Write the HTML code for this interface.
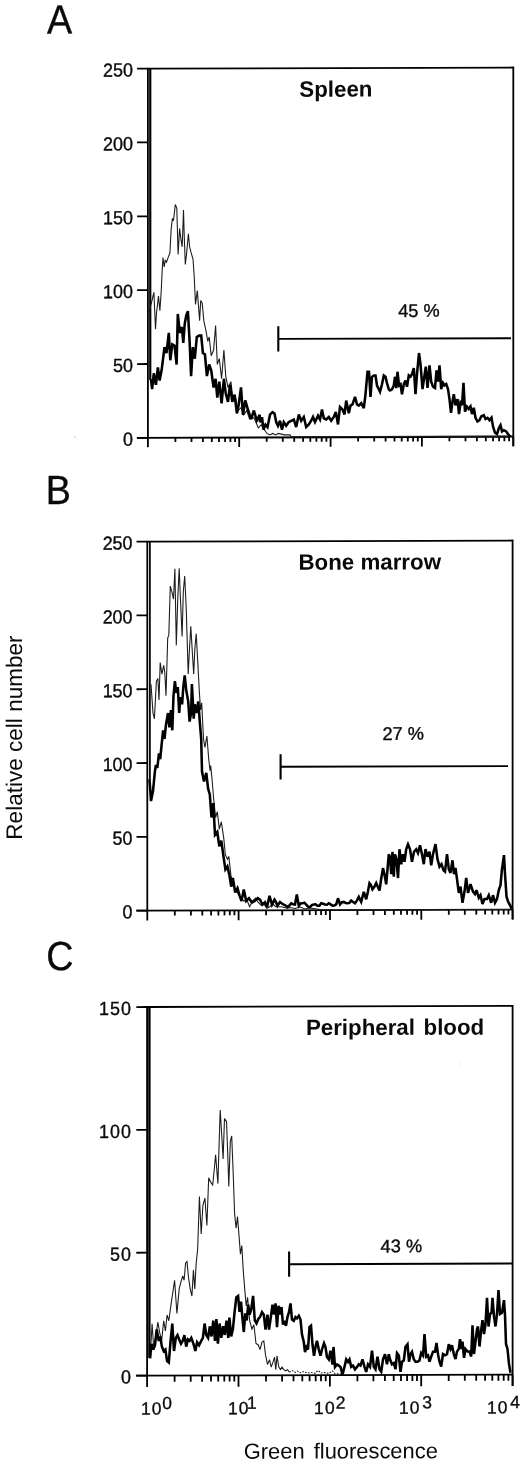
<!DOCTYPE html>
<html lang="en">
<head>
<meta charset="utf-8">
<title>Figure: GFP expression histograms</title>
<style>
html,body{margin:0;padding:0;background:#fff;}
body{width:520px;height:1465px;overflow:hidden;}
svg{display:block;}
text{font-family:"Liberation Sans",Arial,Helvetica,sans-serif;fill:#0a0a0a;}
.tk{font-size:17.9px;stroke:#0a0a0a;stroke-width:0.35px;}
.ttl{font-size:22.3px;font-weight:bold;}
.ax{font-size:22.2px;}
.pl{font-size:40.8px;stroke:#0a0a0a;stroke-width:0.35px;}
.thin{fill:none;stroke:#1c1c1c;stroke-width:1.08;stroke-linejoin:miter;stroke-miterlimit:3;}
.thick{fill:none;stroke:#000;stroke-width:2.55;stroke-linejoin:miter;stroke-miterlimit:3;}
</style>
</head>
<body>
<svg width="520" height="1465" viewBox="0 0 520 1465">
<rect width="520" height="1465" fill="#fff"/>
<g transform="translate(148 0) skewY(-0.17) translate(-148 0)">
<text transform="translate(47.1 33.3) scale(0.925 1)" class="pl">A</text>
<text transform="translate(45.8 503.6) scale(0.925 1)" class="pl">B</text>
<text transform="translate(46.3 970) scale(0.925 1)" class="pl">C</text>
<path d="M147.9 437.8 V68.6 H513.3 V447.3" fill="none" stroke="#000" stroke-width="1.8" stroke-linejoin="miter"/>
<path d="M136.9 437.8 H513.3" fill="none" stroke="#000" stroke-width="1.8"/>
<path d="M150.25 380 V69.1" fill="none" stroke="#000" stroke-width="2.2"/>
<path d="M137.1 437.8 H147.9" stroke="#000" stroke-width="1.8"/>
<text transform="translate(132.9 445.7) scale(1 1.06)" text-anchor="end" class="tk" style="letter-spacing:0px">0</text>
<path d="M137.1 364.0 H147.9" stroke="#000" stroke-width="1.8"/>
<text transform="translate(132.9 371.9) scale(1 1.06)" text-anchor="end" class="tk" style="letter-spacing:0px">50</text>
<path d="M137.1 290.1 H147.9" stroke="#000" stroke-width="1.8"/>
<text transform="translate(132.9 298.0) scale(1 1.06)" text-anchor="end" class="tk" style="letter-spacing:0px">100</text>
<path d="M137.1 216.3 H147.9" stroke="#000" stroke-width="1.8"/>
<text transform="translate(132.9 224.2) scale(1 1.06)" text-anchor="end" class="tk" style="letter-spacing:0px">150</text>
<path d="M137.1 142.4 H147.9" stroke="#000" stroke-width="1.8"/>
<text transform="translate(132.9 150.3) scale(1 1.06)" text-anchor="end" class="tk" style="letter-spacing:0px">200</text>
<path d="M137.1 68.6 H147.9" stroke="#000" stroke-width="1.8"/>
<text transform="translate(132.9 76.5) scale(1 1.06)" text-anchor="end" class="tk" style="letter-spacing:0px">250</text>
<path d="M147.9 437.8 v9.5 M175.4 437.8 v4.4 M191.5 437.8 v4.4 M202.9 437.8 v4.4 M211.8 437.8 v4.4 M219.0 437.8 v4.4 M225.1 437.8 v4.4 M230.4 437.8 v4.4 M235.1 437.8 v4.4 M239.2 437.8 v9.5 M266.7 437.8 v4.4 M282.8 437.8 v4.4 M294.2 437.8 v4.4 M303.1 437.8 v4.4 M310.3 437.8 v4.4 M316.4 437.8 v4.4 M321.7 437.8 v4.4 M326.4 437.8 v4.4 M330.6 437.8 v9.5 M358.1 437.8 v4.4 M374.2 437.8 v4.4 M385.6 437.8 v4.4 M394.5 437.8 v4.4 M401.7 437.8 v4.4 M407.8 437.8 v4.4 M413.1 437.8 v4.4 M417.8 437.8 v4.4 M421.9 437.8 v9.5 M449.4 437.8 v4.4 M465.5 437.8 v4.4 M476.9 437.8 v4.4 M485.8 437.8 v4.4 M493.0 437.8 v4.4 M499.1 437.8 v4.4 M504.4 437.8 v4.4 M509.1 437.8 v4.4 M513.3 437.8 v9.5" stroke="#000" stroke-width="1.8" fill="none"/>
<text x="299.3" y="97.2" class="ttl" style="word-spacing:0px">Spleen</text>
<path d="M278.3 326.7 V351.90000000000003" stroke="#000" stroke-width="2.1" fill="none"/>
<path d="M278.3 339.3 H511" stroke="#000" stroke-width="1.9" fill="none"/>
<text x="398.2" y="317.7" class="tk" style="font-size:18.2px">45 %</text>
<path d="M148.1 313.1 L149.9 308.5 L151.9 300.8 L153.9 292.3 L155.5 329.2 L156.5 313.1 L158.5 296.2 L159.9 310.8 L161.2 291.5 L162.2 270.0 L163.0 257.7 L164.2 266.9 L165.3 260.0 L166.5 262.3 L168.1 257.7 L169.9 253.1 L171.2 228.5 L172.4 218.5 L173.5 220.8 L175.3 204.6 L176.8 208.5 L178.1 254.6 L179.6 228.5 L180.7 237.7 L182.2 246.9 L183.5 210.0 L184.2 234.6 L185.3 264.6 L186.5 254.6 L188.4 233.8 L189.6 246.9 L191.2 253.1 L193.0 259.2 L194.2 276.2 L195.5 304.6 L197.3 290.8 L198.8 310.0 L199.6 320.8 L200.7 300.8 L202.2 303.1 L203.8 320.8 L205.8 330.0 L207.8 341.5 L209.2 337.2 L211.2 356.0 L213.6 350.2 L215.6 325.7 L217.3 364.6 L219.3 358.8 L221.6 379.0 L223.9 350.2 L225.7 376.2 L228.0 387.7 L230.9 381.9 L232.9 399.2 L235.2 396.3 L238.1 410.8 L241.0 407.9 L243.8 415.1 L246.7 410.8 L249.6 419.4 L253.9 418.0 L258.3 428.1 L261.2 425.2 L266.9 433.8 L269.8 435.3 L272.7 433.8 L275.6 435.3 L278.5 433.8 L284.2 435.3 L290.0 435.3 L291.2 437.2 L513.3 437.2" class="thin"/>
<path d="M151.0 379.0 L152.1 389.1 L153.8 373.3 L155.9 384.8 L157.9 367.5 L159.6 380.5 L161.6 370.4 L164.5 347.3 L166.5 353.1 L168.8 332.9 L170.3 360.3 L172.3 344.4 L174.6 345.9 L176.6 364.6 L177.8 314.1 L179.8 332.9 L181.8 327.1 L183.3 343.0 L184.7 324.2 L186.2 315.6 L187.9 311.2 L189.6 341.5 L191.1 376.2 L192.8 347.3 L194.8 358.8 L196.8 337.2 L199.1 335.8 L201.2 335.8 L202.9 353.1 L204.9 354.5 L206.9 376.2 L209.2 364.6 L211.2 370.4 L213.6 387.7 L215.6 379.0 L217.3 397.8 L219.3 381.9 L221.6 403.6 L223.9 379.0 L225.7 393.5 L228.0 402.1 L230.0 384.8 L232.3 402.1 L234.6 394.9 L236.9 413.7 L238.7 405.0 L241.0 387.7 L243.0 415.1 L245.3 400.7 L248.2 410.8 L251.1 419.4 L253.9 410.8 L256.8 420.9 L259.7 415.1 L260.0 422.5 L262.0 417.5 L263.5 430.0 L265.5 425.0 L267.5 427.5 L270.0 415.0 L272.5 412.5 L274.5 413.8 L276.2 422.5 L278.0 426.2 L280.0 421.2 L282.0 430.0 L283.8 422.5 L286.2 426.2 L288.8 422.5 L291.2 421.2 L293.8 420.0 L296.2 427.5 L298.8 415.0 L301.2 421.2 L303.8 417.5 L306.2 427.5 L308.8 425.0 L311.2 421.2 L313.0 417.5 L315.0 422.5 L318.0 416.2 L320.0 420.0 L322.0 410.0 L323.8 418.8 L326.2 420.0 L328.8 417.5 L331.2 421.2 L333.8 417.5 L335.8 412.5 L338.0 425.0 L340.0 407.5 L342.5 410.0 L344.5 415.0 L346.2 401.2 L348.8 413.8 L350.5 406.2 L352.5 405.0 L355.0 397.5 L357.0 405.0 L358.8 406.2 L361.2 403.8 L363.8 408.8 L365.5 395.0 L367.5 372.5 L369.0 372.5 L370.5 397.5 L372.0 377.5 L373.8 376.2 L375.5 376.2 L377.0 386.2 L378.8 390.0 L380.0 392.5 L382.0 385.0 L383.8 376.2 L385.5 377.5 L387.0 383.8 L388.8 390.0 L390.0 391.2 L392.0 390.0 L393.8 386.2 L395.0 377.5 L396.2 388.8 L397.5 372.5 L399.0 386.2 L400.5 385.0 L402.0 395.0 L403.8 385.0 L405.5 381.2 L407.0 387.5 L408.8 376.2 L410.5 377.5 L412.0 375.0 L413.8 368.8 L415.5 395.0 L417.0 375.0 L419.0 353.8 L420.5 365.0 L422.5 390.0 L424.5 376.2 L425.8 367.5 L427.5 388.8 L429.5 366.2 L431.2 382.5 L433.0 387.5 L435.0 388.8 L436.5 371.2 L438.0 382.5 L439.5 366.2 L441.2 390.0 L443.0 383.8 L444.5 386.2 L446.2 385.0 L448.0 390.0 L449.5 400.0 L451.0 413.8 L452.5 402.5 L453.8 395.0 L455.5 406.2 L457.5 400.0 L459.0 415.0 L460.5 403.8 L462.0 406.2 L463.5 383.8 L465.0 412.5 L467.0 407.5 L468.8 410.0 L470.5 407.5 L472.0 415.0 L473.8 408.8 L475.5 418.8 L477.5 422.5 L479.5 421.2 L481.2 417.5 L483.8 416.2 L485.5 420.0 L487.5 418.8 L489.5 421.2 L491.5 418.8 L493.0 427.5 L495.0 433.8 L497.0 435.0 L499.0 428.8 L500.5 426.2 L502.0 432.5 L503.8 431.2 L506.2 432.5 L508.0 435.0 L510.0 437.5" class="thick"/>
<path d="M147.3 910.6 V541.6 H512.6 V920.6" fill="none" stroke="#000" stroke-width="1.8" stroke-linejoin="miter"/>
<path d="M136.3 910.6 H512.6" fill="none" stroke="#000" stroke-width="1.8"/>
<path d="M149.9 780 V542.1" fill="none" stroke="#000" stroke-width="1.7"/>
<path d="M136.5 910.6 H147.3" stroke="#000" stroke-width="1.8"/>
<text transform="translate(132.5 918.5) scale(1 1.06)" text-anchor="end" class="tk" style="letter-spacing:0px">0</text>
<path d="M136.5 836.8 H147.3" stroke="#000" stroke-width="1.8"/>
<text transform="translate(132.5 844.7) scale(1 1.06)" text-anchor="end" class="tk" style="letter-spacing:0px">50</text>
<path d="M136.5 763.0 H147.3" stroke="#000" stroke-width="1.8"/>
<text transform="translate(132.5 770.9) scale(1 1.06)" text-anchor="end" class="tk" style="letter-spacing:0px">100</text>
<path d="M136.5 689.2 H147.3" stroke="#000" stroke-width="1.8"/>
<text transform="translate(132.5 697.1) scale(1 1.06)" text-anchor="end" class="tk" style="letter-spacing:0px">150</text>
<path d="M136.5 615.4 H147.3" stroke="#000" stroke-width="1.8"/>
<text transform="translate(132.5 623.3) scale(1 1.06)" text-anchor="end" class="tk" style="letter-spacing:0px">200</text>
<path d="M136.5 541.6 H147.3" stroke="#000" stroke-width="1.8"/>
<text transform="translate(132.5 549.5) scale(1 1.06)" text-anchor="end" class="tk" style="letter-spacing:0px">250</text>
<path d="M147.3 910.6 v10 M174.8 910.6 v5 M190.9 910.6 v5 M202.3 910.6 v5 M211.1 910.6 v5 M218.4 910.6 v5 M224.5 910.6 v5 M229.8 910.6 v5 M234.4 910.6 v5 M238.6 910.6 v10 M266.1 910.6 v5 M282.2 910.6 v5 M293.6 910.6 v5 M302.5 910.6 v5 M309.7 910.6 v5 M315.8 910.6 v5 M321.1 910.6 v5 M325.8 910.6 v5 M330.0 910.6 v10 M357.4 910.6 v5 M373.5 910.6 v5 M384.9 910.6 v5 M393.8 910.6 v5 M401.0 910.6 v5 M407.1 910.6 v5 M412.4 910.6 v5 M417.1 910.6 v5 M421.3 910.6 v10 M448.8 910.6 v5 M464.8 910.6 v5 M476.3 910.6 v5 M485.1 910.6 v5 M492.3 910.6 v5 M498.5 910.6 v5 M503.7 910.6 v5 M508.4 910.6 v5 M512.6 910.6 v10" stroke="#000" stroke-width="1.8" fill="none"/>
<text x="298.5" y="570.2" class="ttl" style="word-spacing:0px">Bone marrow</text>
<path d="M280.6 754.6 V779.8000000000001" stroke="#000" stroke-width="2.1" fill="none"/>
<path d="M280.6 767.2 H508" stroke="#000" stroke-width="1.9" fill="none"/>
<text x="382.5" y="740.6" class="tk" style="font-size:18.2px">27 %</text>
<path d="M151.0 684.2 L153.0 713.1 L154.4 718.8 L156.4 681.3 L157.9 678.5 L159.0 700.1 L160.2 662.6 L161.9 674.1 L163.7 665.5 L164.8 672.7 L166.0 695.8 L167.7 638.1 L168.8 635.2 L170.3 586.2 L172.3 593.4 L173.5 599.1 L174.9 568.8 L176.3 645.3 L177.8 597.7 L179.2 568.3 L180.4 597.7 L182.1 636.6 L183.3 591.9 L184.7 576.1 L186.2 607.8 L188.2 674.1 L189.3 652.5 L190.8 626.5 L192.5 655.4 L193.7 674.1 L194.8 649.6 L196.2 633.8 L197.7 661.2 L199.4 692.9 L200.6 710.2 L201.7 703.0 L203.5 739.0 L204.9 747.7 L206.9 736.2 L208.7 759.2 L210.1 770.8 L210.7 765.8 L212.1 780.2 L213.8 800.4 L215.6 817.7 L217.3 811.9 L219.3 829.2 L221.3 822.0 L223.7 837.9 L225.4 855.2 L227.4 859.5 L228.8 856.6 L230.9 875.4 L232.9 884.0 L235.2 889.8 L238.1 894.1 L241.0 898.5 L243.8 901.3 L246.7 899.9 L249.6 907.1 L252.5 901.3 L255.4 898.5 L258.3 902.8 L261.2 905.7 L264.0 904.2 L266.9 908.6 L269.8 907.1 L272.7 904.2 L275.6 907.1 L281.3 907.1 L287.1 908.6 L290.0 908.0 L295.0 909.0 L300.0 907.5 L305.0 909.5 L310.0 908.5 L320.0 910.0 L335.0 910.5 L512.5 910.5" class="thin"/>
<path d="M149.5 779.4 L151.0 801.1 L153.0 791.0 L155.0 770.8 L155.9 765.0 L157.3 767.9 L159.0 753.5 L160.2 759.2 L161.9 741.9 L163.1 730.4 L164.5 739.0 L166.0 724.6 L168.0 713.1 L169.4 727.5 L170.9 710.2 L172.3 730.4 L173.5 695.8 L174.9 681.3 L176.3 692.9 L177.8 687.1 L179.2 713.1 L180.4 697.2 L182.1 704.4 L183.3 687.1 L184.7 675.6 L186.2 690.0 L188.2 701.5 L189.6 721.7 L191.1 713.1 L191.9 684.2 L193.7 718.8 L194.8 704.4 L196.5 713.1 L198.3 701.5 L200.0 724.6 L201.2 739.0 L202.0 771.5 L204.0 781.6 L206.3 773.0 L208.1 788.8 L209.8 794.6 L211.5 817.7 L213.3 803.3 L215.0 835.0 L217.3 832.1 L219.3 846.5 L221.3 840.8 L223.7 858.1 L225.4 869.6 L227.4 866.7 L229.4 875.4 L231.2 886.9 L232.9 878.3 L235.2 892.7 L237.5 888.4 L239.5 895.6 L241.5 901.3 L243.8 889.8 L246.2 901.3 L249.0 898.5 L251.9 902.8 L254.8 901.3 L257.7 898.5 L260.0 900.0 L262.5 905.0 L265.0 902.5 L267.0 907.5 L269.5 896.2 L272.0 905.0 L274.5 900.0 L276.0 902.4 L277.5 906.2 L280.0 902.5 L281.9 903.9 L283.8 905.0 L285.6 905.9 L287.5 907.5 L289.4 905.9 L291.2 903.8 L293.1 904.7 L295.0 905.0 L296.8 895.0 L298.8 906.2 L300.6 903.9 L302.5 903.8 L304.4 903.1 L306.2 905.0 L308.1 907.1 L310.0 907.5 L311.9 905.6 L313.8 905.0 L315.6 904.9 L317.5 906.2 L319.4 906.3 L321.2 903.8 L323.1 904.3 L325.0 905.0 L326.9 905.2 L328.8 903.8 L330.6 904.9 L332.5 906.2 L334.4 906.0 L336.2 905.0 L338.0 898.8 L340.0 905.0 L341.9 902.8 L343.8 902.5 L345.6 903.5 L347.5 903.8 L349.4 903.5 L351.2 901.2 L353.1 902.6 L355.0 903.8 L356.9 901.3 L358.8 897.5 L361.2 902.5 L363.8 892.5 L366.2 900.0 L367.9 892.3 L369.5 883.8 L371.0 885.7 L372.5 890.0 L374.4 887.5 L376.2 883.8 L377.9 887.7 L379.5 891.2 L381.2 879.5 L383.0 868.8 L384.6 875.7 L386.2 885.0 L388.8 855.0 L390.0 857.5 L391.2 875.0 L392.5 852.5 L393.8 877.5 L395.0 855.0 L396.5 860.0 L398.0 878.8 L399.5 850.0 L401.2 865.0 L403.0 855.0 L404.5 862.5 L406.2 850.0 L408.0 845.0 L410.0 850.0 L412.0 862.5 L414.0 852.5 L416.2 850.0 L418.0 853.8 L420.0 846.2 L422.0 855.0 L423.8 865.0 L425.5 850.0 L427.5 857.5 L429.5 852.5 L431.2 866.2 L433.0 855.0 L435.5 845.0 L437.5 860.0 L439.5 867.5 L441.5 865.0 L443.5 871.2 L445.0 872.5 L447.0 855.0 L448.8 870.0 L450.5 873.8 L452.5 861.2 L454.0 875.0 L455.5 868.8 L457.0 880.0 L458.8 893.8 L460.5 887.5 L462.5 903.8 L464.5 892.5 L466.2 878.8 L468.0 893.8 L470.5 885.0 L473.0 892.5 L475.0 895.0 L476.5 891.2 L478.8 898.8 L480.5 896.2 L482.5 905.0 L484.5 900.0 L487.0 900.0 L488.8 896.2 L491.2 903.8 L493.0 896.2 L495.0 903.8 L497.0 900.0 L498.8 891.2 L500.5 886.2 L502.0 870.0 L504.0 856.2 L505.0 875.0 L506.5 897.5 L508.0 902.5 L510.0 906.2 L511.8 910.0" class="thick"/>
<path d="M147.1 1375.6 V1007 H512.6 V1387.1" fill="none" stroke="#000" stroke-width="1.8" stroke-linejoin="miter"/>
<path d="M136.1 1375.6 H512.6" fill="none" stroke="#000" stroke-width="1.8"/>
<path d="M149.4 1358 V1007.5" fill="none" stroke="#000" stroke-width="2.4"/>
<path d="M136.29999999999998 1375.6 H147.1" stroke="#000" stroke-width="1.8"/>
<text transform="translate(132.1 1383.5) scale(1 1.06)" text-anchor="end" class="tk" style="letter-spacing:1.1px">0</text>
<path d="M136.29999999999998 1252.7 H147.1" stroke="#000" stroke-width="1.8"/>
<text transform="translate(132.1 1260.6) scale(1 1.06)" text-anchor="end" class="tk" style="letter-spacing:1.1px">50</text>
<path d="M136.29999999999998 1129.9 H147.1" stroke="#000" stroke-width="1.8"/>
<text transform="translate(132.1 1137.8) scale(1 1.06)" text-anchor="end" class="tk" style="letter-spacing:1.1px">100</text>
<path d="M136.29999999999998 1007.0 H147.1" stroke="#000" stroke-width="1.8"/>
<text transform="translate(132.1 1014.9) scale(1 1.06)" text-anchor="end" class="tk" style="letter-spacing:1.1px">150</text>
<path d="M147.1 1375.6 v11.5 M174.6 1375.6 v6.2 M190.7 1375.6 v6.2 M202.1 1375.6 v6.2 M211.0 1375.6 v6.2 M218.2 1375.6 v6.2 M224.3 1375.6 v6.2 M229.6 1375.6 v6.2 M234.3 1375.6 v6.2 M238.5 1375.6 v11.5 M266.0 1375.6 v6.2 M282.1 1375.6 v6.2 M293.5 1375.6 v6.2 M302.3 1375.6 v6.2 M309.6 1375.6 v6.2 M315.7 1375.6 v6.2 M321.0 1375.6 v6.2 M325.7 1375.6 v6.2 M329.9 1375.6 v11.5 M357.4 1375.6 v6.2 M373.4 1375.6 v6.2 M384.9 1375.6 v6.2 M393.7 1375.6 v6.2 M401.0 1375.6 v6.2 M407.1 1375.6 v6.2 M412.4 1375.6 v6.2 M417.0 1375.6 v6.2 M421.2 1375.6 v11.5 M448.7 1375.6 v6.2 M464.8 1375.6 v6.2 M476.2 1375.6 v6.2 M485.1 1375.6 v6.2 M492.3 1375.6 v6.2 M498.4 1375.6 v6.2 M503.7 1375.6 v6.2 M508.4 1375.6 v6.2 M512.6 1375.6 v11.5" stroke="#000" stroke-width="1.8" fill="none"/>
<text x="305.9" y="1035.6" class="ttl" style="word-spacing:2.4px">Peripheral blood</text>
<path d="M289.1 1252.0 V1277.1999999999998" stroke="#000" stroke-width="2.1" fill="none"/>
<path d="M289.1 1264.6 H512" stroke="#000" stroke-width="1.9" fill="none"/>
<text x="380.6" y="1253.1" class="tk" style="font-size:18.2px">43 %</text>
<path d="M150.1 1358.3 L152.1 1323.7 L153.8 1349.6 L155.9 1335.2 L157.9 1322.2 L159.6 1332.3 L161.6 1341.0 L163.7 1320.8 L165.4 1330.9 L167.1 1315.0 L168.8 1320.8 L171.2 1303.5 L172.9 1291.9 L174.6 1280.4 L176.9 1313.6 L179.2 1289.0 L181.0 1281.8 L182.7 1276.1 L184.1 1280.4 L185.6 1263.1 L187.0 1261.6 L188.5 1277.5 L190.2 1289.0 L191.9 1296.2 L193.4 1270.3 L194.8 1289.0 L196.2 1263.1 L197.7 1248.7 L199.4 1196.7 L201.2 1234.2 L202.9 1205.4 L204.9 1198.2 L206.9 1225.6 L208.7 1178.0 L210.7 1182.3 L212.7 1185.2 L214.4 1167.9 L215.6 1154.9 L217.9 1183.8 L219.0 1147.7 L220.2 1110.2 L221.6 1133.3 L223.1 1159.2 L224.5 1118.8 L226.5 1121.7 L227.7 1153.5 L228.8 1186.6 L230.3 1141.9 L231.7 1136.2 L233.2 1173.7 L234.6 1214.0 L236.1 1228.5 L237.5 1216.9 L238.9 1234.2 L240.4 1254.4 L241.8 1245.8 L243.3 1271.7 L244.7 1289.0 L246.2 1306.3 L247.6 1297.7 L249.6 1320.8 L251.9 1329.4 L253.9 1325.1 L256.0 1343.8 L258.3 1345.3 L260.0 1350.0 L262.0 1342.5 L263.8 1341.2 L265.5 1355.0 L267.5 1365.0 L269.5 1360.0 L271.2 1367.5 L273.0 1362.5 L274.5 1357.5 L275.8 1370.0 L277.0 1356.2 L278.8 1367.5 L280.5 1370.0 L282.0 1367.5 L283.8 1370.0 L285.5 1371.2 L287.5 1370.0 L289.5 1372.5" class="thin"/>
<path d="M289.5 1372.5 L292.5 1371.0 L295.0 1373.0 L297.5 1371.5 L300.0 1373.2 L303.8 1372.0 L307.5 1373.5 L311.2 1373.0 L315.0 1373.8 L318.0 1371.0 L321.2 1373.5 L325.0 1373.0 L328.8 1374.0 L332.5 1371.5 L335.0 1374.2 L345.0 1375.0" class="thin" stroke-dasharray="1.6 1.4"/>
<path d="M150.1 1358.3 L151.5 1343.8 L153.3 1349.6 L155.0 1345.3 L156.7 1329.4 L158.8 1341.0 L160.2 1336.6 L161.9 1346.7 L163.7 1351.1 L165.4 1349.6 L167.1 1361.2 L168.8 1362.6 L170.6 1341.0 L172.3 1323.7 L174.0 1351.1 L175.8 1338.1 L177.5 1335.2 L179.2 1339.5 L181.0 1343.8 L182.7 1341.0 L184.4 1335.2 L186.2 1346.7 L187.9 1339.5 L189.6 1341.0 L191.3 1338.1 L193.4 1343.8 L195.4 1351.1 L197.1 1342.4 L199.1 1345.3 L201.2 1341.0 L202.9 1338.1 L204.6 1323.7 L206.3 1335.2 L208.1 1338.1 L209.8 1326.5 L211.5 1336.6 L213.3 1320.8 L215.0 1341.0 L216.4 1319.3 L217.9 1343.8 L219.6 1323.7 L221.3 1338.1 L223.1 1326.5 L224.8 1335.2 L226.5 1320.8 L228.3 1338.1 L229.4 1317.9 L231.2 1336.6 L232.9 1329.4 L234.6 1312.1 L236.3 1297.7 L238.1 1296.2 L239.5 1312.1 L241.0 1302.0 L242.4 1317.9 L243.8 1332.3 L245.3 1313.6 L246.7 1320.8 L248.2 1304.9 L249.6 1315.0 L251.3 1309.2 L253.1 1296.2 L254.8 1320.8 L256.5 1323.7 L258.3 1319.3 L260.0 1317.5 L262.0 1312.5 L263.8 1315.0 L265.5 1330.0 L267.5 1315.0 L269.0 1330.0 L270.5 1320.0 L272.5 1305.0 L274.0 1315.0 L275.5 1303.8 L277.0 1327.5 L278.5 1306.2 L280.0 1315.0 L281.5 1307.5 L283.0 1325.0 L284.5 1321.2 L286.0 1326.2 L287.5 1317.5 L289.0 1312.5 L290.5 1303.8 L292.0 1320.0 L293.8 1321.2 L295.5 1317.5 L297.0 1318.8 L298.8 1316.2 L300.5 1320.0 L302.0 1335.0 L303.8 1342.5 L305.0 1352.5 L306.5 1347.5 L308.0 1350.0 L309.5 1327.5 L311.0 1326.2 L312.5 1345.0 L314.0 1356.2 L315.5 1347.5 L317.0 1341.2 L318.8 1350.0 L320.5 1356.2 L322.0 1350.0 L324.0 1343.8 L325.5 1347.5 L327.0 1357.5 L328.8 1360.0 L330.5 1351.2 L332.5 1365.0 L333.5 1347.5 L335.0 1367.5 L337.0 1365.0 L338.8 1366.2 L340.5 1367.5 L342.5 1375.0 L344.5 1367.5 L346.2 1360.0 L348.0 1362.5 L349.5 1360.0 L351.2 1367.5 L353.0 1366.2 L355.0 1370.0 L357.0 1367.5 L358.8 1365.0 L360.5 1366.2 L362.5 1360.0 L364.5 1367.5 L366.2 1372.5 L368.0 1365.0 L370.0 1367.5 L372.0 1351.2 L373.8 1367.5 L375.5 1370.0 L377.5 1357.5 L379.5 1370.0 L381.2 1372.5 L383.0 1360.0 L385.0 1355.0 L387.0 1365.0 L388.8 1355.0 L390.0 1360.0 L392.0 1365.0 L393.8 1363.8 L395.5 1370.0 L397.0 1353.8 L398.8 1356.2 L400.5 1372.5 L402.0 1362.5 L403.8 1361.2 L405.5 1347.5 L407.5 1345.0 L409.0 1362.5 L410.5 1355.0 L412.0 1352.5 L413.8 1360.0 L415.5 1362.5 L417.5 1362.5 L419.5 1361.2 L421.2 1353.8 L423.0 1356.2 L424.5 1335.0 L426.2 1357.5 L428.0 1356.2 L429.5 1362.5 L431.2 1357.5 L433.0 1352.5 L435.0 1352.5 L436.5 1343.8 L438.0 1355.0 L439.5 1362.5 L441.2 1367.5 L443.0 1355.0 L445.0 1356.2 L447.0 1355.0 L448.8 1345.0 L450.5 1350.0 L452.0 1346.2 L453.8 1355.0 L455.5 1360.0 L457.0 1352.5 L458.8 1350.0 L460.0 1340.0 L461.5 1350.0 L462.5 1342.5 L464.0 1358.8 L465.5 1350.0 L467.5 1352.5 L469.5 1352.5 L471.2 1357.5 L472.5 1326.2 L474.0 1355.0 L475.5 1342.5 L477.0 1330.0 L478.0 1327.5 L479.5 1347.5 L481.0 1332.5 L482.5 1321.2 L484.0 1335.0 L485.5 1325.0 L487.0 1298.8 L488.5 1327.5 L490.0 1315.0 L491.5 1313.8 L492.5 1298.8 L494.0 1317.5 L495.5 1327.5 L497.0 1315.0 L498.5 1291.2 L500.0 1315.0 L502.0 1313.8 L504.0 1301.2 L505.0 1316.2 L506.0 1345.0 L507.5 1350.0 L509.0 1365.0 L510.5 1373.8" class="thick"/>
<text x="141.0" y="1414.4" class="tk" style="font-size:17.4px;letter-spacing:1.2px">10<tspan dy="-5.4" dx="-0.4">0</tspan></text>
<text x="227.9" y="1414.4" class="tk" style="font-size:17.4px;letter-spacing:1.2px">10<tspan dy="-5.4" dx="-2.6">1</tspan></text>
<text x="314.1" y="1414.4" class="tk" style="font-size:17.4px;letter-spacing:1.2px">10<tspan dy="-5.4" dx="-0.2">2</tspan></text>
<text x="399.0" y="1414.4" class="tk" style="font-size:17.4px;letter-spacing:1.2px">10<tspan dy="-5.4" dx="1.4">3</tspan></text>
<text x="486.9" y="1414.4" class="tk" style="font-size:17.4px;letter-spacing:1.2px">10<tspan dy="-5.4" dx="1.6">4</tspan></text>
<text x="243.8" y="1459" class="ax" style="font-size:21.9px;word-spacing:3px">Green fluorescence</text>
<text transform="translate(22.2 839.3) rotate(-90)" class="ax" style="font-size:22.55px">Relative cell number</text>
</g>
<circle cx="75" cy="437" r="0.9" fill="#dcdcdc"/><circle cx="460" cy="1064" r="1" fill="#ececec"/>
</svg>
</body>
</html>
